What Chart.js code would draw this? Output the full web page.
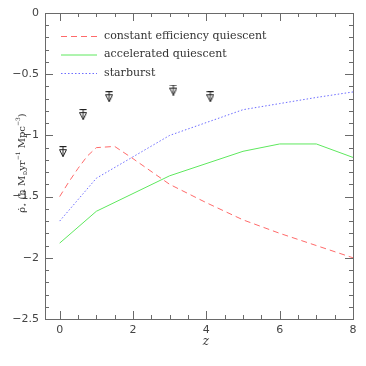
<!DOCTYPE html>
<html>
<head>
<meta charset="utf-8">
<script src="https://cdn.jsdelivr.net/npm/chart.js@4"></script>
<style>
    html, body { margin: 0; padding: 0; background: #fff; }
    #chart { display: block; }
</style>
</head>
<body>
<canvas id="chart" width="366" height="366"></canvas>
<script>
// Data
const redZ = [0, 0.25, 0.5, 0.75, 1, 1.5, 2, 3, 4, 5, 6, 7, 8];
const redRho = [-1.5, -1.38, -1.27, -1.17, -1.1, -1.09, -1.19, -1.4, -1.55, -1.69, -1.8, -1.9, -2.0];

const greenZ = [0, 1, 3, 5, 6, 7, 8];
const greenRho = [-1.88, -1.62, -1.33, -1.13, -1.07, -1.07, -1.18];

const blueZ = [0, 1, 3, 5, 6, 7, 8];
const blueRho = [-1.7, -1.35, -1.0, -0.79, -0.74, -0.69, -0.645];

const limitZ = [0.09, 0.64, 1.35, 3.1, 4.11];
const limitRho = [-1.133, -0.83, -0.684, -0.63, -0.684];

const seriesLabels = ['constant efficiency quiescent', 'accelerated quiescent', 'starburst'];
const xMajor = [0, 2, 4, 6, 8];
const xMinor = [0.5, 1, 1.5, 2.5, 3, 3.5, 4.5, 5, 5.5, 6.5, 7, 7.5];
const yMajor = [0, -0.5, -1, -1.5, -2, -2.5];
const yMinor = [-0.1, -0.2, -0.3, -0.4, -0.6, -0.7, -0.8, -0.9, -1.1, -1.2, -1.3, -1.4,
    -1.6, -1.7, -1.8, -1.9, -2.1, -2.2, -2.3, -2.4];

const toPoints = (xs, ys) => xs.map((x, i) => ({ x: x, y: ys[i] }));

// Upper limit marker: bar on top, down triangle, vertical stroke
function makeLimitMarker() {
    const c = document.createElement('canvas');
    c.width = 8;
    c.height = 11;
    const g = c.getContext('2d');
    g.strokeStyle = '#222';
    g.lineWidth = 1;
    g.beginPath();
    g.moveTo(0.5, 0.5); g.lineTo(7.5, 0.5);
    g.moveTo(0.5, 3.5); g.lineTo(7.5, 3.5); g.lineTo(4, 10.5); g.closePath();
    g.moveTo(4, 0.5); g.lineTo(4, 10.5);
    g.stroke();
    return c;
}

const lineStyles = [
    { color: '#ff6a6a', dash: [6, 4] },
    { color: '#5ee85e', dash: [] },
    { color: '#6c6cff', dash: [1.5, 2] }
];

// Frame, inward ticks, legend, axis titles
const decorPlugin = {
    id: 'decor',
    afterDraw(chart) {
        const ctx = chart.ctx;
        const a = chart.chartArea;
        const xs = chart.scales.x;
        const ys = chart.scales.y;
        ctx.save();
        ctx.strokeStyle = '#6a6a6a';
        ctx.lineWidth = 1;
        ctx.strokeRect(Math.round(a.left) + 0.5, Math.round(a.top) + 0.5,
            Math.round(a.right - a.left), Math.round(a.bottom - a.top));

        ctx.beginPath();
        const xt = (v, len) => {
            const p = Math.round(xs.getPixelForValue(v)) + 0.5;
            ctx.moveTo(p, a.bottom); ctx.lineTo(p, a.bottom - len);
            ctx.moveTo(p, a.top); ctx.lineTo(p, a.top + len);
        };
        const yt = (v, len) => {
            const p = Math.round(ys.getPixelForValue(v)) + 0.5;
            ctx.moveTo(a.left, p); ctx.lineTo(a.left + len, p);
            ctx.moveTo(a.right, p); ctx.lineTo(a.right - len, p);
        };
        xMajor.forEach(v => xt(v, 8));
        xMinor.forEach(v => xt(v, 4));
        yMajor.forEach(v => yt(v, 8));
        yMinor.forEach(v => yt(v, 4));
        ctx.stroke();

        // legend
        const rows = [36, 54.5, 73];
        ctx.font = '11px "DejaVu Serif"';
        ctx.textBaseline = 'middle';
        ctx.textAlign = 'left';
        seriesLabels.forEach((lab, i) => {
            const st = lineStyles[i];
            ctx.strokeStyle = st.color;
            ctx.setLineDash(st.dash);
            ctx.beginPath();
            ctx.moveTo(61, rows[i] + 0.5);
            ctx.lineTo(97, rows[i] + 0.5);
            ctx.stroke();
            ctx.setLineDash([]);
            ctx.fillStyle = '#333';
            ctx.fillText(lab, 104, rows[i]);
        });

        // x title
        ctx.font = 'italic 12px "DejaVu Serif"';
        ctx.textAlign = 'center';
        ctx.fillText('z', (a.left + a.right) / 2 + 7, 342);

        // y title with sub/superscripts
        const parts = [
            ['ρ̇', 10, 0], ['⋆', 7, 2], [' (h M', 10, 0], ['⊙', 6, 2],
            ['yr', 10, 0], ['−1', 6, -5], [' Mpc', 10, 0], ['−3', 6, -5], [')', 10, 0]
        ];
        ctx.translate(25, 163);
        ctx.rotate(-Math.PI / 2);
        let total = 0;
        parts.forEach(p => {
            ctx.font = p[1] + 'px "DejaVu Serif"';
            total += ctx.measureText(p[0]).width;
        });
        let x = -total / 2;
        ctx.textAlign = 'left';
        ctx.textBaseline = 'alphabetic';
        parts.forEach(p => {
            ctx.font = p[1] + 'px "DejaVu Serif"';
            ctx.fillText(p[0], x, p[2]);
            x += ctx.measureText(p[0]).width;
        });
        ctx.restore();
    }
};

const minusLabel = v => (v === 0 ? '0' : (v < 0 ? '−' : '') + Math.abs(v));

new Chart(document.getElementById('chart').getContext('2d'), {
    type: 'scatter',
    data: {
        datasets: [
            {
                label: seriesLabels[0],
                data: toPoints(redZ, redRho),
                showLine: true,
                borderColor: lineStyles[0].color,
                borderDash: lineStyles[0].dash,
                borderWidth: 1,
                pointRadius: 0
            },
            {
                label: seriesLabels[1],
                data: toPoints(greenZ, greenRho),
                showLine: true,
                borderColor: lineStyles[1].color,
                borderWidth: 1,
                pointRadius: 0
            },
            {
                label: seriesLabels[2],
                data: toPoints(blueZ, blueRho),
                showLine: true,
                borderColor: lineStyles[2].color,
                borderDash: lineStyles[2].dash,
                borderWidth: 1,
                pointRadius: 0
            },
            {
                label: 'limits',
                data: toPoints(limitZ, limitRho),
                showLine: false,
                pointStyle: makeLimitMarker(),
                pointRadius: 5
            }
        ]
    },
    options: {
        responsive: false,
        animation: false,
        events: [],
        layout: { padding: { top: 13, right: 13, left: 0, bottom: 0 } },
        plugins: {
            legend: { display: false },
            tooltip: { enabled: false }
        },
        scales: {
            x: {
                type: 'linear',
                min: -0.4,
                max: 8,
                afterBuildTicks: s => { s.ticks = xMajor.map(v => ({ value: v })); },
                afterFit: s => { s.height = 47; },
                grid: { display: false, drawTicks: false },
                border: { display: false },
                ticks: {
                    padding: 5,
                    color: '#444',
                    font: { family: 'DejaVu Sans', size: 11 },
                    callback: minusLabel
                }
            },
            y: {
                type: 'linear',
                min: -2.5,
                max: 0,
                afterBuildTicks: s => { s.ticks = yMajor.map(v => ({ value: v })); },
                afterFit: s => { s.width = 45; },
                grid: { display: false, drawTicks: false },
                border: { display: false },
                ticks: {
                    padding: 6,
                    color: '#444',
                    font: { family: 'DejaVu Sans', size: 11 },
                    callback: minusLabel
                }
            }
        }
    },
    plugins: [decorPlugin]
});
</script>
</body>
</html>
